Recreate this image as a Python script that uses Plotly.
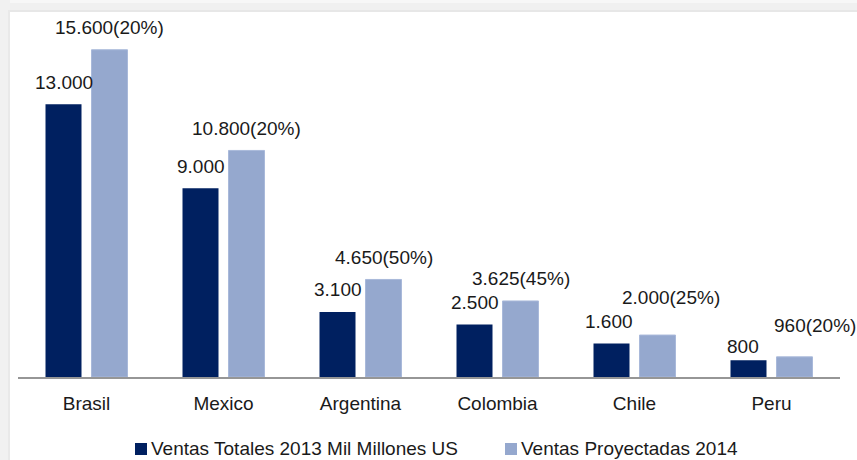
import plotly.graph_objects as go

# --- data ---
paises = ["Brasil", "Mexico", "Argentina", "Colombia", "Chile", "Peru"]
ventas_2013 = [13000, 9000, 3100, 2500, 1600, 800]
ventas_2014 = [15600, 10800, 4650, 3625, 2000, 960]
crecimiento_pct = [20, 20, 50, 45, 25, 20]
serie_2013 = "Ventas Totales 2013 Mil Millones US"
serie_2014 = "Ventas Proyectadas 2014"

# label nudges (px): (dx, dy) per country for each series
ajuste_2013 = [(0, 0), (0, 0), (0, 0), (0, 0), (-3, 0), (-6, -8)]
ajuste_2014 = [(0, 0), (0, 0), (0, 0), (0, 0), (13, 16), (20, 9)]

# --- style ---
W, H = 857, 460
M_L, M_R, M_T, M_B = 18, 17, 12, 83
FONT = "Liberation Sans, Arial, sans-serif"
TXT = "#1a1a1a"
C_DARK = "#002060"
C_LIGHT = "#95A8CE"
FS = 19


def miles(v):
    return f"{v:,}".replace(",", ".")


def px_x(p):
    return (p - M_L) / (W - M_L - M_R)


def px_y(p):
    return 1 - (p - M_T) / (H - M_T - M_B)


fig = go.Figure()
fig.add_trace(go.Bar(x=paises, y=ventas_2013, name=serie_2013,
                     marker=dict(color=C_DARK, line=dict(width=0))))
fig.add_trace(go.Bar(x=paises, y=ventas_2014, name=serie_2014,
                     marker=dict(color=C_LIGHT, line=dict(color="#a9b9da", width=1))))

annotations = []
for i, p in enumerate(paises):
    dx, dy = ajuste_2013[i]
    annotations.append(dict(x=p, y=ventas_2013[i], xref="x", yref="y",
                            text=miles(ventas_2013[i]), showarrow=False,
                            xshift=-23 + dx, yshift=22 + dy, yanchor="middle",
                            font=dict(family=FONT, size=FS, color=TXT)))
    dx, dy = ajuste_2014[i]
    annotations.append(dict(x=p, y=ventas_2014[i], xref="x", yref="y",
                            text=f"{miles(ventas_2014[i])}({crecimiento_pct[i]}%)",
                            showarrow=False,
                            xshift=23 + dx, yshift=22 + dy, yanchor="middle",
                            font=dict(family=FONT, size=FS, color=TXT)))

# legend drawn as swatch + text
shapes = []
leyenda = [(135, C_DARK, serie_2013), (505, C_LIGHT, serie_2014)]
for x0, col, name in leyenda:
    shapes.append(dict(type="rect", xref="paper", yref="paper",
                       x0=px_x(x0), x1=px_x(x0 + 12), y0=px_y(443), y1=px_y(455),
                       fillcolor=col, line=dict(width=0), layer="above"))
    annotations.append(dict(x=px_x(x0 + 14), y=px_y(448), xref="paper", yref="paper",
                            text=name, showarrow=False, xanchor="left", yanchor="middle",
                            font=dict(family=FONT, size=FS, color=TXT)))

# grey frame bands at top and left
frame = [
    (0, 0, W, 12, "#f0f0f0"),
    (0, 0, W, 3, "#f7f7f7"),
    (10, 10, W, 12, "#e7e7e7"),
    (0, 0, 10, H, "#f1f1f1"),
    (8, 10, 10, H, "#e9e9e9"),
]
for x0, y0, x1, y1, col in frame:
    shapes.append(dict(type="rect", xref="paper", yref="paper",
                       x0=px_x(x0), x1=px_x(x1), y0=px_y(y1), y1=px_y(y0),
                       fillcolor=col, line=dict(width=0), layer="below"))

fig.update_layout(
    width=W, height=H,
    margin=dict(l=M_L, r=M_R, t=M_T, b=M_B, pad=0, autoexpand=False),
    paper_bgcolor="white", plot_bgcolor="rgba(0,0,0,0)",
    barmode="group", bargap=0.3285, bargroupgap=0.2174,
    showlegend=False,
    font=dict(family=FONT, size=FS, color=TXT),
    annotations=annotations, shapes=shapes,
)
fig.update_xaxes(range=[-0.5, len(paises) - 0.5], autorange=False,
                 showline=True, linecolor="#969696", linewidth=2,
                 ticks="", showgrid=False, zeroline=False, automargin=False,
                 ticklabelstandoff=8,
                 tickfont=dict(family=FONT, size=FS, color=TXT))
fig.update_yaxes(range=[0, 17400], autorange=False, visible=False,
                 showgrid=False, zeroline=False, automargin=False)

fig.write_html("out.html")
